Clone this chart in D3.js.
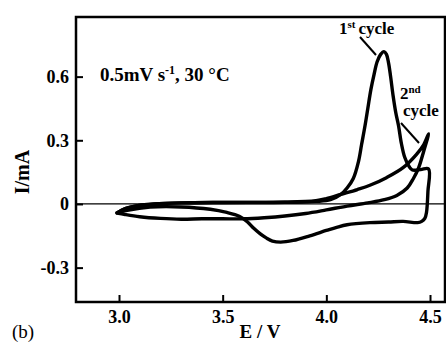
<!DOCTYPE html>
<html><head><meta charset="utf-8">
<script src="https://cdn.jsdelivr.net/npm/d3@7"></script>
<style>
html,body{margin:0;padding:0;background:#fff;}
svg{display:block;}
text{font-family:"Liberation Serif","Times New Roman",serif;fill:#000;}
</style></head>
<body>
<svg id="chart" width="446" height="344"></svg>
<script>
// ---- data ----
const xTicks = [3.0, 3.5, 4.0, 4.5];
const xTickLabels = ["3.0", "3.5", "4.0", "4.5"];
const yTicks = [-0.3, 0, 0.3, 0.6];
const yTickLabels = ["-0.3", "0", "0.3", "0.6"];

const cycle1E = [2.99, 3.03, 3.09, 3.17, 3.30, 3.50, 3.80, 3.95, 4.02, 4.07, 4.10, 4.13, 4.155, 4.17, 4.185, 4.20, 4.215, 4.23, 4.245, 4.262, 4.278, 4.29, 4.30, 4.31, 4.322, 4.335, 4.348, 4.362, 4.378, 4.40, 4.415, 4.455, 4.493, 4.49, 4.483, 4.475, 4.46, 4.44, 4.37, 4.30, 4.21, 4.10, 4.05, 4.00, 3.92, 3.84, 3.78, 3.74, 3.71, 3.68, 3.65, 3.62, 3.58, 3.52, 3.44, 3.30, 3.15, 3.04, 2.99];
const cycle1I = [-0.042, -0.022, -0.008, 0.0, 0.005, 0.007, 0.008, 0.012, 0.02, 0.045, 0.075, 0.12, 0.20, 0.28, 0.36, 0.45, 0.54, 0.61, 0.67, 0.705, 0.718, 0.705, 0.665, 0.60, 0.51, 0.43, 0.37, 0.285, 0.22, 0.175, 0.16, 0.162, 0.165, 0.06, -0.04, -0.068, -0.082, -0.088, -0.082, -0.085, -0.088, -0.098, -0.11, -0.125, -0.15, -0.172, -0.18, -0.175, -0.16, -0.14, -0.115, -0.085, -0.058, -0.04, -0.025, -0.014, -0.015, -0.03, -0.042];

const cycle2E = [2.99, 3.03, 3.09, 3.17, 3.30, 3.50, 3.80, 3.95, 4.00, 4.07, 4.15, 4.21, 4.29, 4.37, 4.435, 4.47, 4.493, 4.47, 4.445, 4.42, 4.39, 4.34, 4.28, 4.20, 4.10, 4.00, 3.90, 3.80, 3.70, 3.60, 3.50, 3.40, 3.30, 3.20, 3.10, 3.03, 2.99];
const cycle2I = [-0.042, -0.022, -0.008, 0.0, 0.005, 0.007, 0.008, 0.015, 0.025, 0.045, 0.068, 0.088, 0.124, 0.171, 0.234, 0.28, 0.33, 0.25, 0.17, 0.12, 0.075, 0.04, 0.02, 0.005, -0.01, -0.028, -0.045, -0.057, -0.065, -0.07, -0.07, -0.07, -0.072, -0.068, -0.06, -0.05, -0.043];

const xLabel = "E / V";
const yLabel = "I/mA";
const condText = ["0.5mV s", "-1", ", 30 °C"];
const panelLabel = "(b)";

// ---- layout ----
const svg = d3.select("#chart");
const L = 76, R = 445, T = 17, B = 302;
const x = d3.scaleLinear().domain([2.7926, 4.5723]).range([L, R]);
const y = d3.scaleLinear().domain([-0.462, 0.881]).range([B, T]);

// zero line
svg.append("line")
  .attr("x1", L).attr("x2", R).attr("y1", y(0)).attr("y2", y(0))
  .attr("stroke", "#000").attr("stroke-width", 1.2);

// axes
const xAxis = d3.axisBottom(x).tickValues(xTicks)
  .tickFormat((d, i) => xTickLabels[i]).tickSizeInner(-7).tickSizeOuter(0).tickPadding(8);
const yAxis = d3.axisLeft(y).tickValues(yTicks)
  .tickFormat((d, i) => yTickLabels[i]).tickSizeInner(-7).tickSizeOuter(0).tickPadding(7);

const gx = svg.append("g").attr("transform", `translate(0,${B})`).call(xAxis);
const gy = svg.append("g").attr("transform", `translate(${L},0)`).call(yAxis);
[gx, gy].forEach(g => {
  g.select(".domain").remove();
  g.selectAll(".tick line").attr("stroke", "#000").attr("stroke-width", 2);
  g.selectAll(".tick text")
    .style("font-family", '"Liberation Serif","Times New Roman",serif')
    .style("font-size", "18px").style("font-weight", "bold").attr("fill", "#000");
});

// frame
svg.append("rect").attr("x", L).attr("y", T).attr("width", R - L).attr("height", B - T)
  .attr("fill", "none").attr("stroke", "#000").attr("stroke-width", 2.5);

// curves
const line = d3.line().x(d => x(d[0])).y(d => y(d[1])).curve(d3.curveCatmullRom.alpha(0.5));
const c1 = cycle1E.map((e, i) => [e, cycle1I[i]]);
const c2 = cycle2E.map((e, i) => [e, cycle2I[i]]);
[c1, c2].forEach(c => {
  svg.append("path").datum(c).attr("d", line)
    .attr("fill", "none").attr("stroke", "#000").attr("stroke-width", 3.4)
    .attr("stroke-linejoin", "round").attr("stroke-linecap", "round");
});

// labels
svg.append("text").attr("x", 260).attr("y", 338).attr("text-anchor", "middle")
  .style("font-size", "19px").style("font-weight", "bold").text(xLabel);
svg.append("text").attr("transform", "translate(29,172) rotate(-90)").attr("text-anchor", "middle")
  .style("font-size", "20px").style("font-weight", "bold").text(yLabel);
svg.append("text").attr("x", 12).attr("y", 338)
  .style("font-size", "19px").text(panelLabel);

// condition text
const ct = svg.append("text").attr("x", 100).attr("y", 81)
  .style("font-size", "19px").style("font-weight", "bold");
ct.append("tspan").text(condText[0]);
ct.append("tspan").attr("dy", -7).style("font-size", "12px").text(condText[1]);
ct.append("tspan").attr("dy", 7).text(condText[2]);

// cycle annotations
const a1 = svg.append("text").attr("x", 339).attr("y", 34)
  .style("font-size", "17px").style("font-weight", "bold");
a1.append("tspan").text("1");
a1.append("tspan").attr("dy", -6).style("font-size", "11px").text("st");
a1.append("tspan").attr("dy", 6).attr("dx", 3).text("cycle");
svg.append("line").attr("x1", 360).attr("y1", 37).attr("x2", 376).attr("y2", 55)
  .attr("stroke", "#000").attr("stroke-width", 2);

const a2 = svg.append("text").attr("x", 400).attr("y", 99)
  .style("font-size", "17px").style("font-weight", "bold");
a2.append("tspan").text("2");
a2.append("tspan").attr("dy", -6).style("font-size", "11px").text("nd");
svg.append("text").attr("x", 403).attr("y", 116)
  .style("font-size", "17px").style("font-weight", "bold").text("cycle");
svg.append("line").attr("x1", 401).attr("y1", 123).attr("x2", 419).attr("y2", 143)
  .attr("stroke", "#000").attr("stroke-width", 2);
</script>
</body></html>
